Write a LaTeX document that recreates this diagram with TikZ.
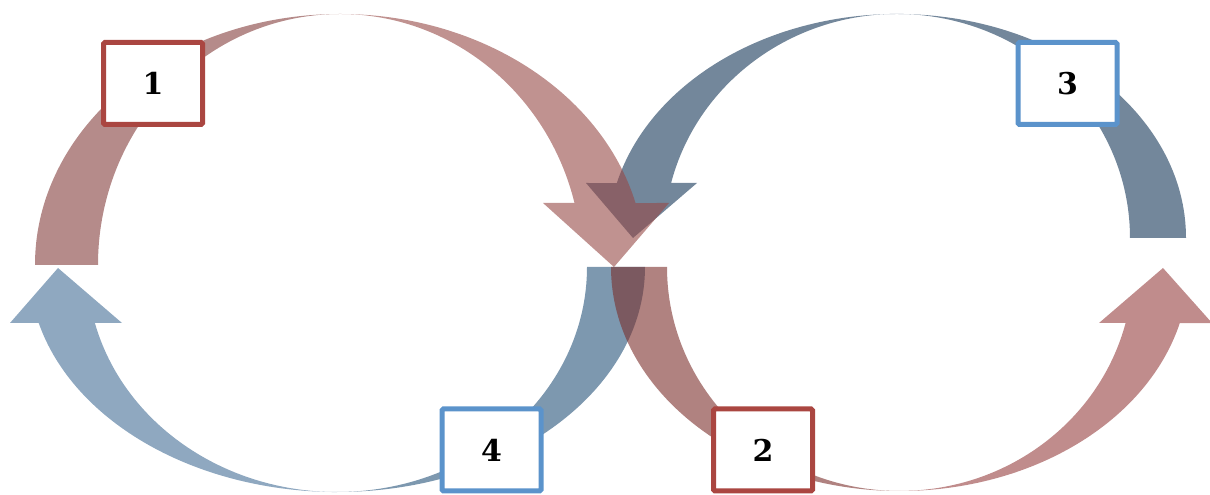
\documentclass[tikz,border=0pt]{standalone}
\usepackage{fontspec}
\setmainfont{Latin Modern Roman}
\newfontfamily\numfont{DejaVu Serif}
\usepackage{tikz}
\definecolor{rAL}{RGB}{132,62,60}
\definecolor{rAR}{RGB}{150,73,70}
\definecolor{rBL}{RGB}{123,47,43}
\definecolor{rBR}{RGB}{150,63,63}
\definecolor{bC}{RGB}{22,55,88}
\definecolor{bDL}{RGB}{68,110,150}
\definecolor{bDR}{RGB}{38,83,122}
\definecolor{redline}{RGB}{170,70,65}
\definecolor{blueline}{RGB}{91,147,203}
\tikzset{
  band/.style={fill=#1, fill opacity=0.6, draw=none},
  numbox/.style={draw=#1, line width=5pt, fill=white, rounded corners=1.5pt,
    minimum width=99pt, minimum height=82pt, inner sep=0pt,
    font=\numfont\fontsize{30}{34}\selectfont\bfseries}
}
\begin{document}
\begin{tikzpicture}[x=1pt,y=1pt]
\useasboundingbox (0,0) rectangle (1210,495);
% arrow 3 (blue, top right)
\fill[band=bC] (1186,257) arc[start angle=0, end angle=165.8, x radius=289pt, y radius=224pt]
  -- (586,312) -- (633,257) -- (697,312) -- (671.1,312)
  arc[start angle=165.8, end angle=0, x radius=233pt, y radius=224pt] -- cycle;
% arrow 4 (blue, bottom left) right part
\fill[band=bDR] (645,228) arc[start angle=360, end angle=270, x radius=308pt, y radius=225pt]
  arc[start angle=270, end angle=360, x radius=250pt, y radius=225pt] -- cycle;
% arrow 4 left part
\fill[band=bDL] (337,3) arc[start angle=270, end angle=194.4, x radius=308pt, y radius=225pt]
  -- (10,172) -- (58,227) -- (122,172) -- (94.9,172)
  arc[start angle=194.4, end angle=270, x radius=250pt, y radius=225pt] -- cycle;
% arrow 1 (red, top left) left part
\fill[band=rAL] (35,230) arc[start angle=180, end angle=90, x radius=305pt, y radius=251pt]
  arc[start angle=90, end angle=180, x radius=242pt, y radius=251pt] -- cycle;
% arrow 1 right part
\fill[band=rAR] (340,481) arc[start angle=90, end angle=14.3, x radius=305pt, y radius=251pt]
  -- (669,292) -- (614,228) -- (543,292) -- (574.5,292)
  arc[start angle=14.3, end angle=90, x radius=242pt, y radius=251pt] -- cycle;
% arrow 2 (red, bottom right) left part
\fill[band=rBL] (611,228) arc[start angle=180, end angle=270, x radius=289pt, y radius=224pt]
  arc[start angle=270, end angle=180, x radius=233pt, y radius=224pt] -- cycle;
% arrow 2 right part
\fill[band=rBR] (900,4) arc[start angle=270, end angle=345.5, x radius=289pt, y radius=224pt]
  -- (1212,172) -- (1163,227) -- (1099,172) -- (1125.6,172)
  arc[start angle=345.5, end angle=270, x radius=233pt, y radius=224pt] -- cycle;
% number boxes
\node[numbox=redline] (b1) at (153,411.5) {1};
\node[numbox=blueline] (b3) at (1067.5,411.5) {3};
\node[numbox=blueline] (b4) at (491.5,45) {4};
\node[numbox=redline] (b2) at (763,45) {2};
\end{tikzpicture}
\end{document}
